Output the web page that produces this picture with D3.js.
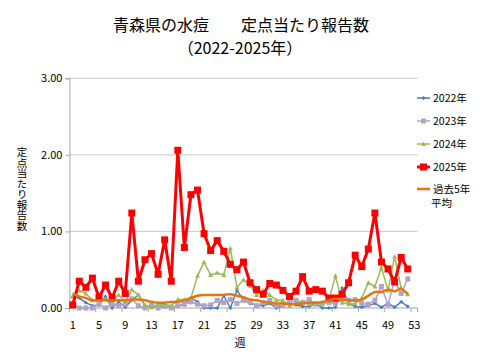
<!DOCTYPE html>
<html>
<head>
<meta charset="utf-8">
<script src="https://cdn.jsdelivr.net/npm/d3@7"></script>
<style>
  body { margin: 0; background: #fff; }
  svg text { font-family: "Noto Sans CJK JP", "Noto Sans", sans-serif; fill: #000; }
</style>
</head>
<body>
<div id="chart"></div>
<script>
// weeks 1..53 on the axis, data up to week 52
const weeks = d3.range(1, 54);
const tickWeeks = [1, 5, 9, 13, 17, 21, 25, 29, 33, 37, 41, 45, 49, 53];
const yTicks = [0, 1, 2, 3];

const y2022 = [0.15, 0.13, 0.07, 0.03, 0.04, 0.15, 0.00, 0.08, 0.01, 0.10, 0.17, 0.03, 0.01, 0.03, 0.02, 0.01, 0.03, 0.04, 0.13, 0.08,
  0.00, 0.00, 0.00, 0.16, 0.00, 0.23, 0.11, 0.06, 0.04, 0.03, 0.06, 0.00, 0.03, 0.07, 0.04, 0.02, 0.02, 0.06, 0.00, 0.00,
  0.01, 0.26, 0.06, 0.02, 0.01, 0.03, 0.06, 0.01, 0.06, 0.01, 0.08, 0.02];
const y2023 = [0.05, 0.00, 0.00, 0.00, 0.05, 0.00, 0.05, 0.03, 0.05, 0.12, 0.03, 0.00, 0.05, 0.00, 0.02, 0.00, 0.03, 0.05, 0.08, 0.05,
  0.03, 0.04, 0.10, 0.07, 0.11, 0.06, 0.10, 0.08, 0.03, 0.07, 0.10, 0.03, 0.04, 0.07, 0.10, 0.07, 0.11, 0.05, 0.06, 0.07,
  0.06, 0.11, 0.10, 0.11, 0.06, 0.05, 0.10, 0.28, 0.04, 0.37, 0.19, 0.38];
const y2024 = [0.15, 0.23, 0.19, 0.10, 0.11, 0.12, 0.08, 0.17, 0.08, 0.24, 0.17, 0.04, 0.01, 0.05, 0.05, 0.03, 0.11, 0.11, 0.13, 0.42,
  0.60, 0.43, 0.46, 0.43, 0.78, 0.27, 0.37, 0.29, 0.17, 0.23, 0.17, 0.10, 0.10, 0.03, 0.07, 0.08, 0.05, 0.06, 0.07, 0.11,
  0.42, 0.07, 0.05, 0.06, 0.13, 0.33, 0.28, 0.53, 0.23, 0.67, 0.26, 0.18];
const y2025 = [0.04, 0.35, 0.27, 0.39, 0.14, 0.30, 0.13, 0.35, 0.19, 1.24, 0.35, 0.63, 0.71, 0.44, 0.89, 0.35, 2.06, 0.79, 1.48, 1.54,
  0.97, 0.75, 0.88, 0.74, 0.57, 0.50, 0.60, 0.33, 0.24, 0.18, 0.32, 0.30, 0.23, 0.15, 0.22, 0.41, 0.22, 0.24, 0.22, 0.13,
  0.13, 0.18, 0.33, 0.69, 0.54, 0.77, 1.24, 0.60, 0.51, 0.34, 0.66, 0.51];
const avg5 = [0.19, 0.15, 0.13, 0.10, 0.10, 0.10, 0.10, 0.10, 0.10, 0.11, 0.11, 0.10, 0.08, 0.07, 0.07, 0.08, 0.08, 0.10, 0.13, 0.16,
  0.17, 0.17, 0.17, 0.17, 0.18, 0.16, 0.14, 0.11, 0.10, 0.08, 0.07, 0.06, 0.06, 0.05, 0.05, 0.06, 0.07, 0.07, 0.08, 0.10,
  0.12, 0.11, 0.10, 0.10, 0.11, 0.16, 0.21, 0.21, 0.24, 0.22, 0.25, 0.18];

const series = [
  { name: ['2022年'], values: y2022, color: '#4a7ebb', width: 1.5, marker: 'diamond', size: 4 },
  { name: ['2023年'], values: y2023, color: '#b3a2c7', width: 1.5, marker: 'square', size: 5 },
  { name: ['2024年'], values: y2024, color: '#9bbb59', width: 1.5, marker: 'triangle', size: 5 },
  { name: ['2025年'], values: y2025, color: '#ff0000', width: 3, marker: 'square', size: 7 },
  { name: ['過去5年', '平均'], values: avg5, color: '#e8730c', width: 2.5, marker: null, smooth: true }
];

const width = 480, height = 360;
const plotLeft = 69.4, plotRight = 417.6, plotTop = 78.3, plotBottom = 308;

const svg = d3.select('#chart').append('svg')
  .attr('width', width)
  .attr('height', height);

const x = d3.scaleBand().domain(weeks).range([plotLeft, plotRight]).padding(0);
const cx = w => x(w) + x.bandwidth() / 2;
const y = d3.scaleLinear().domain([0, 3]).range([plotBottom, plotTop]);

// gridlines
svg.append('g')
  .selectAll('line')
  .data(yTicks.slice(1))
  .join('line')
  .attr('x1', plotLeft).attr('x2', plotRight)
  .attr('y1', d => y(d)).attr('y2', d => y(d))
  .attr('stroke', '#c8c8c8').attr('stroke-width', 1);

// y axis
const yAxis = svg.append('g')
  .attr('transform', `translate(${plotLeft},0)`)
  .call(d3.axisLeft(y).tickValues(yTicks).tickFormat(d3.format('.2f')).tickSize(4).tickPadding(3));
yAxis.select('.domain').attr('stroke', '#a6a6a6');
yAxis.selectAll('.tick line').attr('stroke', '#a6a6a6');
yAxis.selectAll('.tick text').attr('font-size', 11).attr('fill', '#000')
  .attr('font-family', '"Liberation Sans", "Noto Sans", sans-serif');

// x axis
const xAxis = svg.append('g')
  .attr('transform', `translate(0,${plotBottom})`);
xAxis.append('line')
  .attr('x1', plotLeft).attr('x2', plotRight)
  .attr('stroke', '#a6a6a6');
xAxis.selectAll('.tk')
  .data(tickWeeks.concat([54]))
  .join('line')
  .attr('class', 'tk')
  .attr('x1', d => d === 54 ? plotRight : x(d))
  .attr('x2', d => d === 54 ? plotRight : x(d))
  .attr('y1', 0).attr('y2', 4)
  .attr('stroke', '#a6a6a6');
xAxis.selectAll('text')
  .data(tickWeeks)
  .join('text')
  .attr('x', d => cx(d))
  .attr('y', 21)
  .attr('text-anchor', 'middle')
  .attr('font-size', 11)
  .attr('font-family', '"Liberation Sans", "Noto Sans", sans-serif')
  .text(d => d);

// axis titles
svg.append('text')
  .attr('x', 240).attr('y', 347)
  .attr('text-anchor', 'middle')
  .attr('font-size', 11)
  .text('週');

svg.append('text')
  .attr('x', 22).attr('y', 189)
  .attr('text-anchor', 'middle')
  .attr('font-size', 10.5)
  .style('writing-mode', 'vertical-rl')
  .style('text-orientation', 'upright')
  .text('定点当たり報告数');

// title
svg.append('text')
  .attr('x', 241).attr('y', 31)
  .attr('text-anchor', 'middle')
  .attr('font-size', 16)
  .text('青森県の水痘　　定点当たり報告数');
svg.append('text')
  .attr('x', 240).attr('y', 54)
  .attr('text-anchor', 'middle')
  .attr('font-size', 16)
  .text('（2022-2025年）');

function markerPath(type, size) {
  const s = size / 2;
  if (type === 'diamond') return `M0,${-s}L${s},0L0,${s}L${-s},0Z`;
  if (type === 'triangle') return `M0,${-s}L${s},${s * 0.8}L${-s},${s * 0.8}Z`;
  return `M${-s},${-s}H${s}V${s}H${-s}Z`;
}

// series
series.forEach(s => {
  const g = svg.append('g');
  const line = d3.line()
    .x((d, i) => cx(weeks[i]))
    .y(d => y(d))
    .curve(s.smooth ? d3.curveCatmullRom.alpha(0.5) : d3.curveLinear);
  g.append('path')
    .datum(s.values)
    .attr('d', line)
    .attr('fill', 'none')
    .attr('stroke', s.color)
    .attr('stroke-width', s.width)
    .attr('stroke-linejoin', 'round');
  if (s.marker) {
    g.selectAll('path.m')
      .data(s.values)
      .join('path')
      .attr('class', 'm')
      .attr('transform', (d, i) => `translate(${cx(weeks[i])},${y(d)})`)
      .attr('d', markerPath(s.marker, s.size))
      .attr('fill', s.color);
  }
});

// legend
const legendY = [98, 121, 144, 167, 189];
const lg = svg.append('g');
series.forEach((s, i) => {
  const gy = legendY[i];
  lg.append('line')
    .attr('x1', 417).attr('x2', 430)
    .attr('y1', gy).attr('y2', gy)
    .attr('stroke', s.color)
    .attr('stroke-width', s.width);
  if (s.marker) {
    lg.append('path')
      .attr('transform', `translate(423.5,${gy})`)
      .attr('d', markerPath(s.marker, s.size))
      .attr('fill', s.color);
  }
  s.name.forEach((ln, k) => {
    lg.append('text')
      .attr('x', k === 0 ? 433 : 431)
      .attr('y', gy + 4 + k * 14)
      .attr('font-size', 10.5)
      .text(ln);
  });
});
</script>
</body>
</html>
